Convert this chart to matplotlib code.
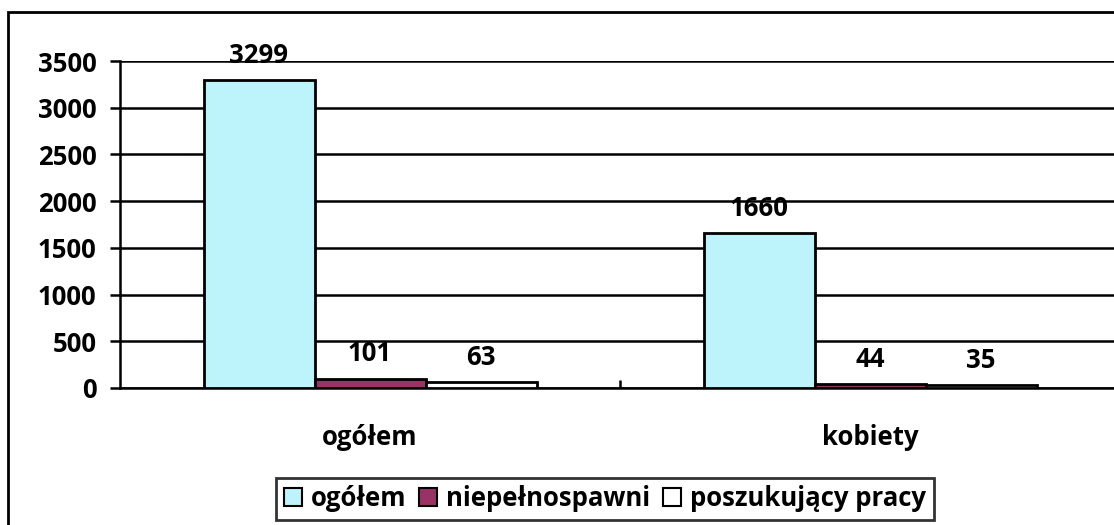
import matplotlib
matplotlib.use("Agg")
import matplotlib.pyplot as plt
from matplotlib.patches import Patch, Rectangle
import numpy as np

categories = ["ogółem", "kobiety"]
series_names = ["ogółem", "niepełnospawni", "poszukujący pracy"]
ogolem = [3299, 1660]
niepelnosprawni = [101, 44]
poszukujacy = [63, 35]
series_values = [ogolem, niepelnosprawni, poszukujacy]
colors = ["#bdf3fa", "#993366", "#ffffff"]
yticks = [0, 500, 1000, 1500, 2000, 2500, 3000, 3500]

plt.rcParams['font.family'] = ['Open Sans', 'DejaVu Sans']
plt.rcParams['font.weight'] = 'bold'
FS = 18.5

W, H = 1114, 525
fig = plt.figure(figsize=(W / 100, H / 100), dpi=100)
ax = fig.add_axes([120 / W, (H - 388) / H, (1120 - 120) / W, (388 - 61) / H])

x = np.arange(len(categories))
bw = 0.222
for i, (name, vals, c) in enumerate(zip(series_names, series_values, colors)):
    bars = ax.bar(x + (i - 1) * bw, vals, bw, color=c, edgecolor="black",
                  linewidth=2, zorder=3, label=name)
    for b, v in zip(bars, vals):
        ax.annotate(str(v), (b.get_x() + b.get_width() / 2, b.get_height()),
                    xytext=(0, 8), textcoords="offset points",
                    ha="center", va="bottom", fontsize=FS, fontweight="bold",
                    zorder=2)

ax.set_xlim(-0.5, 1.5)
ax.set_ylim(0, 3500)
ax.set_yticks(yticks)
ax.set_yticklabels([str(t) for t in yticks], fontsize=FS, fontweight="bold")
ax.tick_params(axis="y", direction="out", length=7, width=1.8, pad=10)
ax.set_xticks(x)
ax.set_xticklabels(categories, fontsize=FS, fontweight="bold")
ax.tick_params(axis="x", length=0, pad=26)
ax.set_xticks([0.5], minor=True)
ax.tick_params(axis="x", which="minor", direction="in", length=6, width=1.8)
ax.yaxis.grid(True, color="black", linewidth=1.8, zorder=0)
ax.set_axisbelow(True)
for s in ["top", "right"]:
    ax.spines[s].set_visible(False)
for s in ["left", "bottom"]:
    ax.spines[s].set_linewidth(1.8)

handles = [Patch(facecolor=c, edgecolor="black", linewidth=1.5) for c in colors]
leg = fig.legend(handles, series_names, loc="lower center",
                 bbox_to_anchor=(605 / W, 5 / H), ncol=3, frameon=True,
                 fancybox=False, edgecolor="black",
                 prop={"weight": "bold", "size": FS},
                 handlelength=0.7, handleheight=0.7, handletextpad=0.35,
                 columnspacing=0.5, borderpad=0.3, borderaxespad=0)
leg.get_frame().set_linewidth(2)

fig.patches.append(Rectangle((8 / W, -0.05), 1.2, (H - 12) / H + 0.05,
                             transform=fig.transFigure, fill=False,
                             edgecolor="black", linewidth=2))

fig.savefig("out.png", dpi=100)
